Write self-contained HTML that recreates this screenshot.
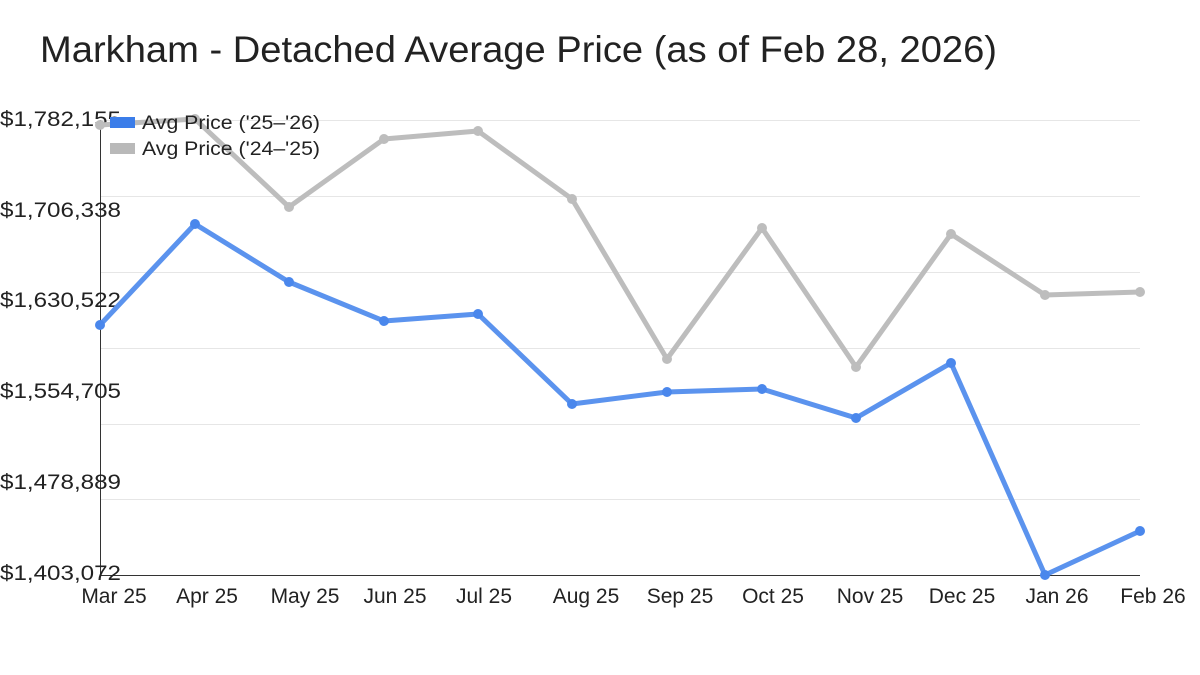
<!DOCTYPE html>
<html><head><meta charset="utf-8"><style>
html,body{margin:0;padding:0;background:#fff;}
svg{display:block;font-family:"Liberation Sans",sans-serif;}
</style></head><body>
<svg width="1200" height="675" viewBox="0 0 1200 675">
<text x="40" y="62" font-size="37" fill="#222" textLength="957" lengthAdjust="spacingAndGlyphs">Markham - Detached Average Price (as of Feb 28, 2026)</text>
<g stroke="#e6e6e6" stroke-width="1">
<line x1="100" y1="120.5" x2="1140" y2="120.5"/>
<line x1="100" y1="196.5" x2="1140" y2="196.5"/>
<line x1="100" y1="272.5" x2="1140" y2="272.5"/>
<line x1="100" y1="348.5" x2="1140" y2="348.5"/>
<line x1="100" y1="424.5" x2="1140" y2="424.5"/>
<line x1="100" y1="499.5" x2="1140" y2="499.5"/>
</g>
<line x1="100.5" y1="120" x2="100.5" y2="575" stroke="#333"/>
<line x1="100" y1="575.5" x2="1140" y2="575.5" stroke="#333"/>
<g font-size="21" fill="#222">
<text x="0" y="126" textLength="121" lengthAdjust="spacingAndGlyphs">$1,782,155</text>
<text x="0" y="217" textLength="121" lengthAdjust="spacingAndGlyphs">$1,706,338</text>
<text x="0" y="307" textLength="121" lengthAdjust="spacingAndGlyphs">$1,630,522</text>
<text x="0" y="398" textLength="121" lengthAdjust="spacingAndGlyphs">$1,554,705</text>
<text x="0" y="489" textLength="121" lengthAdjust="spacingAndGlyphs">$1,478,889</text>
<text x="0" y="580" textLength="121" lengthAdjust="spacingAndGlyphs">$1,403,072</text>
</g>
<g font-size="21" fill="#222" text-anchor="middle">
<text x="114" y="603">Mar 25</text><text x="207" y="603">Apr 25</text><text x="305" y="603">May 25</text>
<text x="395" y="603">Jun 25</text><text x="484" y="603">Jul 25</text><text x="586" y="603">Aug 25</text>
<text x="680" y="603">Sep 25</text><text x="773" y="603">Oct 25</text><text x="870" y="603">Nov 25</text>
<text x="962" y="603">Dec 25</text><text x="1057" y="603">Jan 26</text><text x="1153" y="603">Feb 26</text>
</g>
<g fill="none" stroke-width="5" stroke-linejoin="round">
<polyline stroke="#bdbdbd" points="100,125 195,119 289,207 384,139 478,131 572,199 667,359 762,228 856,367 951,234 1045,295 1140,292"/>
<polyline stroke="#5b93ee" points="100,325 195,224 289,282 384,321 478,314 572,404 667,392 762,389 856,418 951,363 1045,575 1140,531"/>
</g>
<g fill="#bdbdbd">
<circle cx="100" cy="125" r="5"/><circle cx="195" cy="119" r="5"/><circle cx="289" cy="207" r="5"/><circle cx="384" cy="139" r="5"/><circle cx="478" cy="131" r="5"/><circle cx="572" cy="199" r="5"/><circle cx="667" cy="359" r="5"/><circle cx="762" cy="228" r="5"/><circle cx="856" cy="367" r="5"/><circle cx="951" cy="234" r="5"/><circle cx="1045" cy="295" r="5"/><circle cx="1140" cy="292" r="5"/>
</g>
<g fill="#4a87ec">
<circle cx="100" cy="325" r="5"/><circle cx="195" cy="224" r="5"/><circle cx="289" cy="282" r="5"/><circle cx="384" cy="321" r="5"/><circle cx="478" cy="314" r="5"/><circle cx="572" cy="404" r="5"/><circle cx="667" cy="392" r="5"/><circle cx="762" cy="389" r="5"/><circle cx="856" cy="418" r="5"/><circle cx="951" cy="363" r="5"/><circle cx="1045" cy="575" r="5"/><circle cx="1140" cy="531" r="5"/>
</g>
<rect x="110" y="117" width="25" height="11" fill="#3b7de9"/>
<rect x="110" y="143" width="25" height="11" fill="#b9b9b9"/>
<g font-size="19" fill="#222">
<text x="142" y="129" textLength="178" lengthAdjust="spacingAndGlyphs">Avg Price ('25–'26)</text>
<text x="142" y="155" textLength="178" lengthAdjust="spacingAndGlyphs">Avg Price ('24–'25)</text>
</g>
</svg>
</body></html>
